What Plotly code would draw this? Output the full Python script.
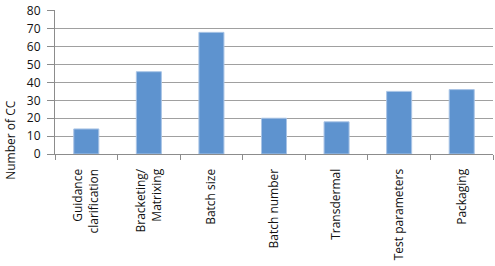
import plotly.graph_objects as go

categories = ["Guidance<br>clarification", "Bracketing/<br>Matrixing", "Batch size",
              "Batch number", "Transdermal", "Test parameters", "Packaging"]
values = [14, 46, 68, 20, 18, 35, 36]
y_ticks = [0, 10, 20, 30, 40, 50, 60, 70, 80]
y_title = "Number of CC"

font = dict(family="Open Sans, DejaVu Sans, sans-serif", size=12, color="#111111")

fig = go.Figure(go.Bar(
    x=categories, y=values,
    marker=dict(color="#5E93CF", line=dict(color="#A9C4E6", width=1)),
))

fig.update_layout(
    width=495, height=266,
    margin=dict(l=55, r=2, t=5, b=112),
    paper_bgcolor="white", plot_bgcolor="white",
    font=font, bargap=0.6, showlegend=False,
    annotations=[dict(text=y_title, textangle=-90, xref="paper", yref="paper",
                      x=-55/438, y=0.095, xanchor="left", yanchor="middle",
                      showarrow=False, font=font, xshift=0)],
)
fig.update_xaxes(
    type="category", tickangle=-90, tickson="boundaries", ticks="outside",
    ticklen=5, tickcolor="#8c8c8c", showline=True, linecolor="#8c8c8c",
    linewidth=1, ticklabelstandoff=9, showgrid=False,
)
fig.update_yaxes(
    range=[0, 80.5], tickvals=y_ticks, ticks="outside", ticklen=7,
    tickcolor="#8c8c8c", showline=True, linecolor="#8c8c8c", linewidth=1,
    showgrid=True, gridcolor="#a0a0a0", gridwidth=1, zeroline=False,
    ticklabelstandoff=4, ticklabeloverflow="allow",
)

fig.write_html("out.html")
